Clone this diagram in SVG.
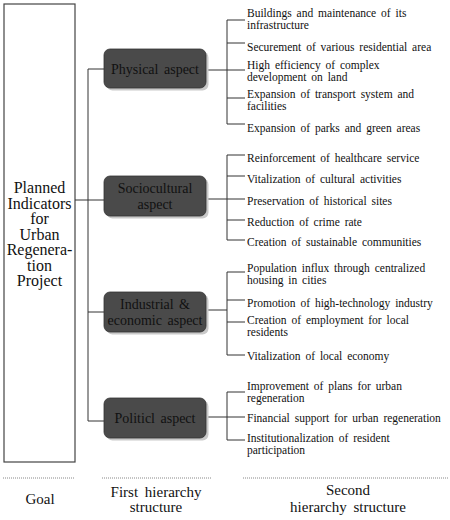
<svg xmlns="http://www.w3.org/2000/svg" width="450" height="520" viewBox="0 0 450 520">
<style>
.ln{stroke:#333;stroke-width:1;fill:none}
.goal{fill:#fff;stroke:#444;stroke-width:1.2}
text{font-family:'Liberation Serif','Times New Roman',Times,'DejaVu Serif',serif;fill:#111}
.gt{font-size:16px;text-anchor:middle}
.bx{fill:#4a4a4a;stroke:#333;stroke-width:0.8}
.sh{fill:#c9c9c9}
.bt{font-size:14px;text-anchor:middle;word-spacing:2px}
.it{font-size:11.5px;word-spacing:2px}
.lb{font-size:15px;text-anchor:middle;word-spacing:3px}
.dot{stroke:#888;stroke-width:1;stroke-dasharray:1 1}
</style>
<g id="goal">
<rect class="goal" x="4" y="4" width="71" height="458"/>
<text class="gt" x="39.5" y="193">Planned</text>
<text class="gt" x="39.5" y="208.5">Indicators</text>
<text class="gt" x="39.5" y="224">for</text>
<text class="gt" x="39.5" y="239.5">Urban</text>
<text class="gt" x="39.5" y="255">Regenera-</text>
<text class="gt" x="39.5" y="270.5">tion</text>
<text class="gt" x="39.5" y="286">Project</text>
</g>
<g id="connectors">
<path class="ln" d="M75 200H104M88 69V421M88 69H104M88 312H104M88 421H104"/>
<path class="ln" d="M206 70H245M227 20V124M227 20H245M227 43H245M227 98H245M227 124H245"/>
<path class="ln" d="M206 199H245M227 155V240M227 155H245M227 176H245M227 220H245M227 240H245"/>
<path class="ln" d="M206 310H227M227 272V355M227 272H245M227 300H245M227 322H245M227 355H245"/>
<path class="ln" d="M206 417H245M227 392V440M227 392H245M227 440H245"/>
</g>
<g id="physical">
<rect class="sh" x="106.5" y="51.5" width="102" height="39" rx="6"/>
<rect class="bx" x="104" y="49" width="102" height="39" rx="6"/>
<text class="bt" x="155" y="74">Physical aspect</text>
</g>
<g id="sociocultural">
<rect class="sh" x="106.5" y="178.5" width="102" height="40" rx="6"/>
<rect class="bx" x="104" y="176" width="102" height="40" rx="6"/>
<text class="bt" x="155" y="193">Sociocultural</text>
<text class="bt" x="155" y="209">aspect</text>
</g>
<g id="industrial">
<rect class="sh" x="106.5" y="294.5" width="102" height="40" rx="6"/>
<rect class="bx" x="104" y="292" width="102" height="40" rx="6"/>
<text class="bt" x="155" y="309">Industrial &amp;</text>
<text class="bt" x="155" y="325">economic aspect</text>
</g>
<g id="political">
<rect class="sh" x="106.5" y="400.5" width="102" height="40" rx="6"/>
<rect class="bx" x="104" y="398" width="102" height="40" rx="6"/>
<text class="bt" x="155" y="423">Politicl aspect</text>
</g>
<g id="physical-items">
<text class="it" x="247" y="17">Buildings and maintenance of its</text>
<text class="it" x="247" y="29">infrastructure</text>
<text class="it" x="247" y="50.5">Securement of various residential area</text>
<text class="it" x="247" y="69">High efficiency of complex</text>
<text class="it" x="247" y="81">development on land</text>
<text class="it" x="247" y="98">Expansion of transport system and</text>
<text class="it" x="247" y="110">facilities</text>
<text class="it" x="247" y="131.5">Expansion of parks and green areas</text>
</g>
<g id="sociocultural-items">
<text class="it" x="247" y="161.5">Reinforcement of healthcare service</text>
<text class="it" x="247" y="182.5">Vitalization of cultural activities</text>
<text class="it" x="247" y="204.5">Preservation of historical sites</text>
<text class="it" x="247" y="225.5">Reduction of crime rate</text>
<text class="it" x="247" y="245.5">Creation of sustainable communities</text>
</g>
<g id="industrial-items">
<text class="it" x="247" y="272">Population influx through centralized</text>
<text class="it" x="247" y="284">housing in cities</text>
<text class="it" x="247" y="306.5">Promotion of high-technology industry</text>
<text class="it" x="247" y="324">Creation of employment for local</text>
<text class="it" x="247" y="336">residents</text>
<text class="it" x="247" y="359.5">Vitalization of local economy</text>
</g>
<g id="political-items">
<text class="it" x="247" y="390">Improvement of plans for urban</text>
<text class="it" x="247" y="402">regeneration</text>
<text class="it" x="247" y="421.5">Financial support for urban regeneration</text>
<text class="it" x="247" y="442">Institutionalization of resident</text>
<text class="it" x="247" y="454">participation</text>
</g>
<g id="legend">
<path class="dot" d="M3 478H75M102 478H211M243 478H448"/>
<text class="lb" x="40" y="504">Goal</text>
<text class="lb" x="156" y="497">First hierarchy</text>
<text class="lb" x="156" y="512">structure</text>
<text class="lb" x="348" y="495">Second</text>
<text class="lb" x="348" y="512">hierarchy structure</text>
</g>
</svg>
